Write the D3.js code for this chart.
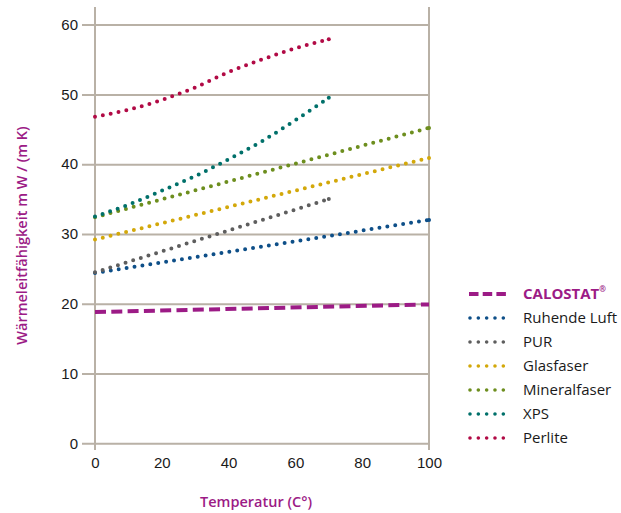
<!DOCTYPE html>
<html><head><meta charset="utf-8">
<script src="https://cdn.jsdelivr.net/npm/d3@7"></script>
<style>
html,body{margin:0;padding:0;background:#fff;}
svg{display:block;font-family:"Open Sans",sans-serif;}
</style></head>
<body>
<svg id="chart" width="621" height="513"></svg>
<script>
const xTicks = [0, 20, 40, 60, 80, 100];
const yTicks = [0, 10, 20, 30, 40, 50, 60];
const seriesNames = ["CALOSTAT", "Ruhende Luft", "PUR", "Glasfaser", "Mineralfaser", "XPS", "Perlite"];
const seriesColors = ["#9c1b86", "#0e4f88", "#5e5e5e", "#d3a80a", "#6d8e1e", "#00706a", "#b10a45"];
const calostatX = [0, 100];
const calostatY = [18.8, 19.9];
const luftX = [0, 100];
const luftY = [24.4, 32.0];
const purX = [0, 70];
const purY = [24.5, 35.0];
const glasX = [0, 100];
const glasY = [29.2, 40.9];
const mineralX = [0, 100];
const mineralY = [32.4, 45.2];
const xpsX = [0, 10, 20, 30, 40, 50, 60, 70];
const xpsY = [32.5, 34.2, 36.2, 38.3, 40.7, 43.3, 46.3, 49.5];
const perliteX = [0, 10, 20, 30, 40, 50, 60, 70];
const perliteY = [46.8, 47.8, 49.2, 51.0, 53.2, 55.0, 56.6, 57.9];

const seriesX = [calostatX, luftX, purX, glasX, mineralX, xpsX, perliteX];
const seriesY = [calostatY, luftY, purY, glasY, mineralY, xpsY, perliteY];

const svg = d3.select("#chart");
const x = d3.scaleLinear().domain([0, 100]).range([95, 429]);
const y = d3.scaleLinear().domain([0, 60]).range([443.3, 24.6]);
const gridColor = "#b9b1a6";
const magenta = "#9c1b86";

// horizontal grid
const yAxis = d3.axisLeft(y).tickValues(yTicks).tickSize(-(x(100) - 82)).tickPadding(4);
const gy = svg.append("g").attr("transform", "translate(82,0)").call(yAxis);
gy.select(".domain").remove();
gy.selectAll(".tick line").attr("stroke", gridColor).attr("stroke-width", 2).attr("x1", 0).attr("x2", x(100) - 82);
gy.selectAll(".tick text").attr("fill", "#1a1a1a").attr("font-size", 15).attr("x", -4);

// vertical lines at 0 and 100
svg.selectAll(".vline").data([0, 100]).enter().append("line")
  .attr("x1", d => x(d)).attr("x2", d => x(d))
  .attr("y1", 7).attr("y2", 450)
  .attr("stroke", gridColor).attr("stroke-width", 2);

// x tick labels
const xAxis = d3.axisBottom(x).tickValues(xTicks).tickSize(0).tickPadding(0);
const gx = svg.append("g").attr("transform", "translate(0,455)").call(xAxis);
gx.select(".domain").remove();
gx.selectAll(".tick text").attr("fill", "#1a1a1a").attr("font-size", 15).attr("dy", "0.85em");

// series lines
const line = d3.line().curve(d3.curveMonotoneX);
seriesNames.forEach((name, i) => {
  const pts = seriesX[i].map((v, j) => [x(v), y(seriesY[i][j])]);
  const p = svg.append("path").attr("d", line(pts)).attr("fill", "none")
    .attr("stroke", seriesColors[i]);
  if (i === 0) {
    p.attr("stroke-width", 4).attr("stroke-dasharray", "11,5.3");
  } else {
    p.attr("stroke-width", 4).attr("stroke-linecap", "round").attr("stroke-dasharray", "0,8");
    // end dot at last data point
    const last = pts[pts.length - 1];
    svg.append("circle").attr("cx", last[0]).attr("cy", last[1]).attr("r", 2).attr("fill", seriesColors[i]);
  }
});

// legend
const legY0 = 294, legStep = 24;
seriesNames.forEach((name, i) => {
  const ly = legY0 + i * legStep;
  const sw = svg.append("line").attr("x1", 469).attr("x2", 506).attr("y1", ly).attr("y2", ly)
    .attr("stroke", seriesColors[i]);
  if (i === 0) {
    sw.attr("stroke-width", 4).attr("stroke-dasharray", "9.5,4.2");
  } else {
    sw.attr("x1", 470).attr("x2", 504).attr("stroke-width", 3.6).attr("stroke-linecap", "round").attr("stroke-dasharray", "0,8.33");
  }
  const t = svg.append("text").attr("x", 523).attr("y", ly).attr("dy", "0.35em")
    .attr("font-size", 15);
  if (i === 0) {
    t.attr("fill", magenta).attr("font-weight", 700).text(name);
    t.append("tspan").attr("font-size", 8).attr("dy", "-0.9em").text("®");
  } else {
    t.attr("fill", "#1a1a1a").text(name);
  }
});

// axis titles
svg.append("text").attr("transform", "translate(22,235.5) rotate(-90)")
  .attr("text-anchor", "middle").attr("dy", "0.35em").attr("fill", magenta)
  .attr("font-size", 14.5).attr("font-weight", 600).text("Wärmeleitfähigkeit m W / (m K)");
svg.append("text").attr("x", 256).attr("y", 502).attr("dy", "0.35em")
  .attr("text-anchor", "middle").attr("fill", magenta)
  .attr("font-size", 14.5).attr("font-weight", 600).text("Temperatur (C°)");
</script>
</body></html>
